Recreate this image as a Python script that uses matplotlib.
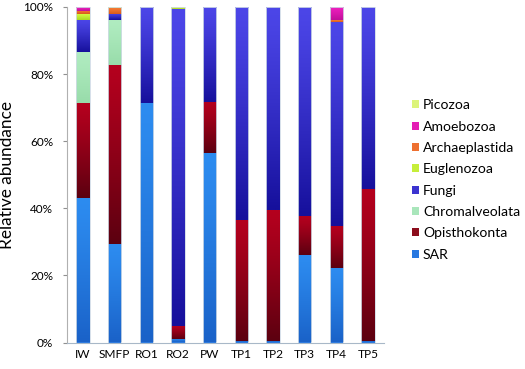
import matplotlib
matplotlib.use("Agg")
import matplotlib.pyplot as plt
import numpy as np
from matplotlib.patches import Patch
from matplotlib.colors import to_rgb

samples = ["IW", "SMFP", "RO1", "RO2", "PW", "TP1", "TP2", "TP3", "TP4", "TP5"]
SAR            = [43.0, 29.3, 71.5, 1.0, 56.4, 0.3, 0.5, 26.0, 22.3, 0.3]
Opisthokonta   = [28.3, 53.4, 0.0, 3.8, 15.2, 36.2, 39.0, 11.6, 12.3, 45.4]
Chromalveolata = [15.3, 13.4, 0.0, 0.2, 0.0, 0.0, 0.0, 0.0, 0.0, 0.0]
Fungi          = [9.6, 1.8, 28.5, 94.5, 28.4, 63.5, 60.5, 62.4, 60.9, 54.3]
Euglenozoa     = [1.7, 0.0, 0.0, 0.5, 0.0, 0.0, 0.0, 0.0, 0.0, 0.0]
Archaeplastida = [1.0, 1.7, 0.0, 0.0, 0.0, 0.0, 0.0, 0.0, 0.5, 0.0]
Amoebozoa      = [1.1, 0.2, 0.0, 0.0, 0.0, 0.0, 0.0, 0.0, 4.0, 0.0]
Picozoa        = [0.0, 0.2, 0.0, 0.0, 0.0, 0.0, 0.0, 0.0, 0.0, 0.0]

# name, values, legend colour, gradient top, gradient bottom
series = [
    ("SAR", SAR, "#2878e0", "#2d8cf0", "#1a62c8"),
    ("Opisthokonta", Opisthokonta, "#8c0d1c", "#b4001e", "#5c0010"),
    ("Chromalveolata", Chromalveolata, "#a9e6bb", "#b0ecc0", "#98dcaa"),
    ("Fungi", Fungi, "#3c34d0", "#4c46e8", "#16109c"),
    ("Euglenozoa", Euglenozoa, "#c6ee3a", "#d4f840", "#a8d820"),
    ("Archaeplastida", Archaeplastida, "#ee7030", "#f47a34", "#d85a18"),
    ("Amoebozoa", Amoebozoa, "#e41eb4", "#f020c0", "#c0109a"),
    ("Picozoa", Picozoa, "#dcf47a", "#e4f880", "#c8e860"),
]

plt.rcParams['font.family'] = ['Lato', 'DejaVu Sans']

fig = plt.figure(figsize=(5.25, 3.69), dpi=100)
ax = fig.add_axes([67.2 / 525, 26.5 / 369, 316.6 / 525, 335.6 / 369])
fig.canvas.draw()
renderer = fig.canvas.get_renderer()


def fit_size(text, target_px):
    t = fig.text(0, 0, text, fontsize=10)
    w = t.get_window_extent(renderer).width
    t.remove()
    return 10.0 * target_px / w


fs_leg = fit_size("Chromalveolata", 97)
fs_ylab = fit_size("Relative abundance", 148)
fs_xt = fit_size("SMFP", 31)
fs_yt = fit_size("60%", 23)

x = np.arange(len(samples))
width = 0.42
bottom = np.zeros(len(samples))
handles = []
grad_n = 64
tt = np.linspace(0, 1, grad_n)[:, None]
for name, vals, col, ctop, cbot in series:
    v = np.array(vals)
    bars = ax.bar(x, v, width, bottom=bottom, color=col, edgecolor="none")
    top_rgb = np.array(to_rgb(ctop))
    bot_rgb = np.array(to_rgb(cbot))
    w = tt ** 1.2
    img = (top_rgb[None, :] * (1 - w) + bot_rgb[None, :] * w)[:, None, :]
    for rect, h, b0 in zip(bars, v, bottom):
        if h <= 0:
            continue
        x0 = rect.get_x()
        im = ax.imshow(img, extent=(x0, x0 + width, b0, b0 + h), origin="upper",
                       aspect="auto", interpolation="bilinear", zorder=2)
        im.set_clip_path(rect)
    bottom += v
    handles.append(Patch(facecolor=col, label=name))

# faint outline around each full stacked bar
ax.bar(x, bottom, width, color="none", edgecolor="#d0dbe6", linewidth=0.6, zorder=3)

ax.set_xlim(-0.5, len(samples) - 0.5)
ax.set_ylim(0, 100)
ax.set_yticks([0, 20, 40, 60, 80, 100])
ax.set_yticklabels(["0%", "20%", "40%", "60%", "80%", "100%"], fontsize=fs_yt)
ax.set_xticks(x)
ax.set_xticklabels(samples, fontsize=fs_xt)
ax.tick_params(axis="x", length=0, pad=5)
ax.tick_params(axis="y", length=3, color="#909090", pad=7)
for s in ["top", "right"]:
    ax.spines[s].set_visible(False)
ax.spines["left"].set_color("#b0b0b0")
ax.spines["bottom"].set_color("#a8b8c8")
ax.set_ylabel("Relative abundance", fontsize=fs_ylab)
ax.yaxis.set_label_coords(-52 / 316.6, 0.5)

fs_px = fs_leg * 100 / 72
fig.legend(handles=handles[::-1], loc="center left",
           bbox_to_anchor=(412 / 525, 1 - 180 / 369),
           frameon=False, fontsize=fs_leg, handlelength=7 / fs_px,
           handleheight=7 / fs_px, handletextpad=4 / fs_px,
           labelspacing=(25.7 - 1.17 * fs_px) / fs_px,
           borderaxespad=0, borderpad=0)

fig.savefig("out.png", dpi=100)
